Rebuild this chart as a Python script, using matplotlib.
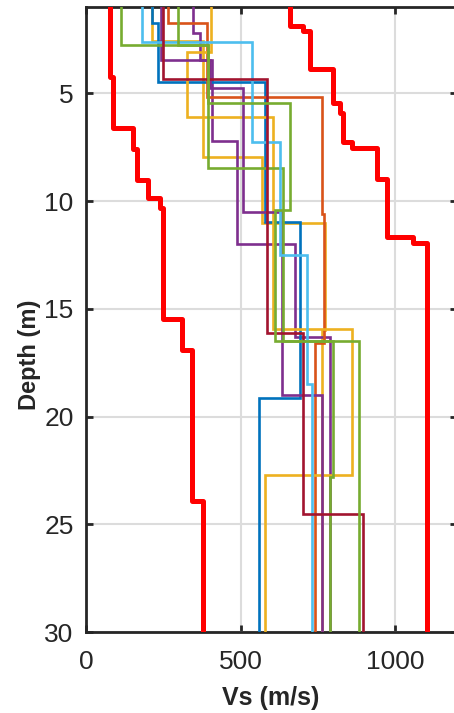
import matplotlib
matplotlib.use("Agg")
import matplotlib.pyplot as plt

plt.rcParams['font.family'] = ['Liberation Sans', 'DejaVu Sans']

# ---- data: Vs layer values (m/s) and interface depths (m) ----
bound_low_vs = [78, 87, 152, 165, 200, 240, 250, 310, 343, 378]
bound_low_z = [4.24, 6.6, 7.6, 9.0, 9.85, 10.3, 15.47, 16.9, 23.9]

bound_high_vs = [660, 700, 724, 800, 820, 830, 860, 941, 973, 1057, 1101]
bound_high_z = [1.85, 2.1, 3.85, 5.45, 5.9, 7.25, 7.55, 8.95, 11.65, 11.95]

blue_vs = [212, 233, 578, 692, 559]
blue_z = [1.73, 4.47, 10.97, 19.14]

orange_vs = [264, 390, 762, 769, 740]
orange_z = [1.74, 5.16, 10.6, 16.6]

yellowA_vs = [404, 326, 605, 860, 580]
yellowA_z = [3.06, 6.1, 15.95, 22.7]

yellowB_vs = [213, 378, 569, 773, 763]
yellowB_z = [2.55, 7.95, 11.0, 16.0]

purple1_vs = [242, 400, 508, 634, 763]
purple1_z = [3.45, 4.76, 10.49, 19.0]

purple2_vs = [347, 370, 406, 487, 676, 789]
purple2_z = [2.2, 3.45, 7.2, 12.0, 16.3]

greenA_vs = [112, 394, 637, 799, 789]
greenA_z = [2.75, 8.45, 16.5, 22.8]

greenB_vs = [298, 394, 660, 611, 884]
greenB_z = [2.75, 5.45, 10.4, 16.5]

lightblue_vs = [182, 536, 627, 713, 730]
lightblue_z = [2.6, 7.24, 12.5, 18.5]

darkred_vs = [250, 585, 700, 897]
darkred_z = [4.35, 16.1, 24.5]

z_top, z_bot = 0.0, 30.0
xticks = [0, 500, 1000]
yticks = [5, 10, 15, 20, 25, 30]


def profile(vs, z):
    edges = [z_top] + list(z) + [z_bot]
    xs, ys = [], []
    for i, v in enumerate(vs):
        xs += [v, v]
        ys += [edges[i], edges[i + 1]]
    return xs, ys


W, H = 454, 713
fig = plt.figure(figsize=(W / 100, H / 100), dpi=100)
left = 86 / W
bottom = 1 - 632 / H
ax_w = 371.2
ax_h = 632 - 7.3
ax = fig.add_axes([left, bottom, ax_w / W, ax_h / H])

profiles = [
    (yellowB_vs, yellowB_z, '#EDB120'),
    (purple2_vs, purple2_z, '#7E2F8E'),
    (blue_vs, blue_z, '#0072BD'),
    (orange_vs, orange_z, '#D95319'),
    (yellowA_vs, yellowA_z, '#EDB120'),
    (purple1_vs, purple1_z, '#7E2F8E'),
    (greenA_vs, greenA_z, '#77AC30'),
    (lightblue_vs, lightblue_z, '#4DBEEE'),
    (darkred_vs, darkred_z, '#A2142F'),
    (greenB_vs, greenB_z, '#77AC30'),
]
for vs, z, c in profiles:
    xs, ys = profile(vs, z)
    ax.plot(xs, ys, color=c, lw=1.9, solid_joinstyle='miter', zorder=3)

for vs, z in [(bound_low_vs, bound_low_z), (bound_high_vs, bound_high_z)]:
    xs, ys = profile(vs, z)
    ax.plot(xs, ys, color='#FF0000', lw=3.6, zorder=4)

ax.set_xlim(0, 1200)
ax.set_ylim(30, 1)
ax.set_xticks(xticks)
ax.set_yticks(yticks)
ax.grid(True, color='#dcdcdc', lw=1.5, zorder=0)
ax.set_axisbelow(True)
for s in ax.spines.values():
    s.set_linewidth(2)
    s.set_color('#262626')
ax.tick_params(direction='in', length=5, width=2, top=True, right=True,
               labelsize=19, labelcolor='#262626', color='#262626')
ax.tick_params(axis='y', pad=9)
ax.tick_params(axis='x', pad=13)
ax.set_xlabel('Vs (m/s)', fontsize=18, fontweight='bold', color='#262626')
ax.set_ylabel('Depth (m)', fontsize=17, fontweight='bold', color='#262626')
ax.xaxis.set_label_coords((271 - 86) / ax_w, -(698 - 632) / ax_h)
ax.xaxis.label.set_va('center')
ax.yaxis.set_label_coords(-(86 - 41) / ax_w, (632 - 355) / ax_h)

fig.savefig('out.png', dpi=100)
